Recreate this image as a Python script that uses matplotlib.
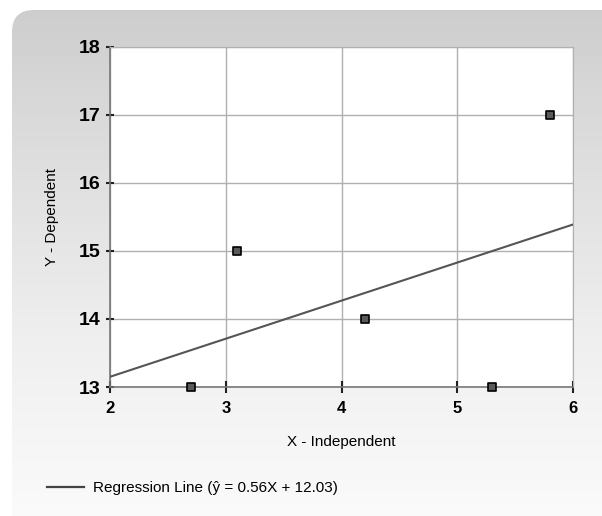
import numpy as np
import matplotlib.pyplot as plt
from matplotlib.patches import FancyBboxPatch
from matplotlib.lines import Line2D

# data
x_pts = [2.7, 3.1, 4.2, 5.3, 5.8]
y_pts = [13, 15, 14, 13, 17]
slope = 0.56
intercept = 12.03
x_ticks = [2, 3, 4, 5, 6]
y_ticks = [13, 14, 15, 16, 17, 18]
legend_label = "Regression Line (\u0177 = 0.56X + 12.03)"

plt.rcParams['font.family'] = ['Liberation Sans', 'DejaVu Sans']

fig = plt.figure(figsize=(6.02, 5.16), dpi=100)

# grey gradient panel with a rounded corner
bg = fig.add_axes([0, 0, 1, 1], zorder=-10)
bg.set_xlim(0, 602)
bg.set_ylim(516, 0)
bg.axis('off')
grad = np.linspace(0, 1, 256).reshape(-1, 1)
img = bg.imshow(grad, cmap='Greys_r', vmin=-2.6, vmax=1.15, extent=[0, 602, 516, 0],
                aspect='auto', interpolation='bicubic')
box = FancyBboxPatch((12, 10), 640, 600, boxstyle="round,pad=0,rounding_size=22",
                     transform=bg.transData, facecolor='none', edgecolor='none')
bg.add_patch(box)
img.set_clip_path(box)

ax = fig.add_axes([0.1827, 0.25, 0.7693, 0.659])
ax.set_facecolor('white')

# regression line
xs = np.array([2, 6])
ax.plot(xs, slope * xs + intercept, color='#555555', lw=1.5, zorder=3)

ax.scatter(x_pts, y_pts, marker='s', s=30, facecolor='#5a5a5a', edgecolor='black',
           linewidth=1.2, zorder=4, clip_on=False)

ax.set_xlim(2, 6)
ax.set_ylim(13, 18)
ax.set_xticks(x_ticks)
ax.set_yticks(y_ticks)
ax.grid(True, color='#b0b0b0', lw=1)
ax.set_axisbelow(True)
for s in ['top', 'right']:
    ax.spines[s].set_color('#b0b0b0')
for s in ['left', 'bottom']:
    ax.spines[s].set_color('#777777')
    ax.spines[s].set_linewidth(1.2)
ax.tick_params(axis='y', labelsize=14, direction='inout', length=6, width=1.5,
               color='#222222', pad=4)
ax.tick_params(axis='x', labelsize=12, direction='inout', length=8, width=1.5,
               color='#222222', pad=6)
for lbl in ax.get_xticklabels() + ax.get_yticklabels():
    lbl.set_fontweight('bold')

ax.set_xlabel('X - Independent', fontsize=11, labelpad=14, color='black')
ax.set_ylabel('Y - Dependent', fontsize=11, labelpad=14, color='black')

handle = Line2D([], [], color='#444444', lw=1.6)
fig.legend([handle], [legend_label], loc='center left', bbox_to_anchor=(0.055, 0.054),
           frameon=False, fontsize=11, handlelength=2.4, handletextpad=0.6,
           labelcolor='black')

fig.savefig('out.png', dpi=100)
